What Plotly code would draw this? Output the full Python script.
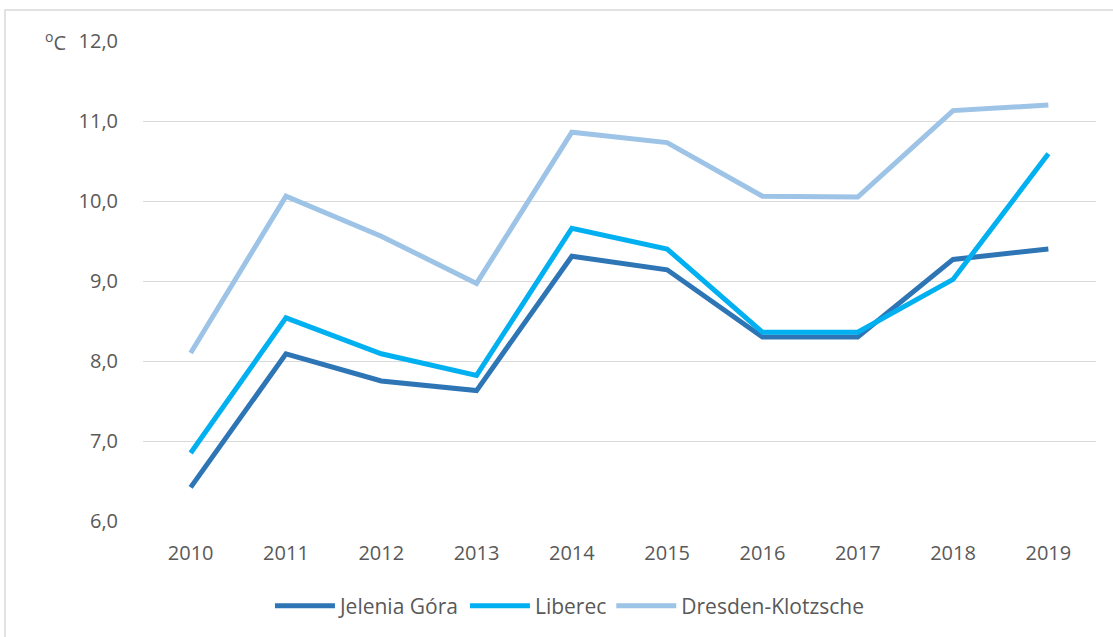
import plotly.graph_objects as go

years = [2010, 2011, 2012, 2013, 2014, 2015, 2016, 2017, 2018, 2019]
jelenia_gora = [6.42, 8.09, 7.75, 7.63, 9.31, 9.14, 8.30, 8.30, 9.27, 9.40]
liberec = [6.85, 8.54, 8.09, 7.82, 9.66, 9.40, 8.36, 8.36, 9.02, 10.59]
dresden = [8.10, 10.06, 9.56, 8.97, 10.86, 10.73, 10.06, 10.05, 11.13, 11.20]

series = [
    ("Jelenia Góra", jelenia_gora, "#2E75B6"),
    ("Liberec", liberec, "#00B0F0"),
    ("Dresden-Klotzsche", dresden, "#9DC3E6"),
]

fig = go.Figure()
for name, vals, color in series:
    fig.add_trace(go.Scatter(
        x=[str(y) for y in years], y=vals, name=name, mode="lines",
        line=dict(color=color, width=5),
    ))

font_family = "Open Sans, Liberation Sans, sans-serif"
fig.update_layout(
    width=1113, height=637,
    margin=dict(l=143, r=17, t=41, b=115),
    paper_bgcolor="white", plot_bgcolor="white",
    separators=", ",
    font=dict(family=font_family, size=20, color="#595959"),
    showlegend=True,
    legend=dict(orientation="h", x=0.448, y=-0.175, xanchor="center", yanchor="middle",
                font=dict(size=21, color="#595959"), itemwidth=60,
                traceorder="normal"),
    xaxis=dict(type="category", range=[-0.5, 9.5], showgrid=False, showline=False,
               zeroline=False, ticks="", ticklabelstandoff=18),
    yaxis=dict(range=[6, 12], dtick=1, tickformat=".1f", showgrid=True,
               gridcolor="#D9D9D9", gridwidth=1, zeroline=False, showline=False,
               ticks="", ticklabelstandoff=24),
    shapes=[dict(type="rect", xref="paper", yref="paper", x0=-0.1448, x1=1.2,
                 y0=-0.6, y1=1.0644, line=dict(color="#D9D9D9", width=1.5),
                 fillcolor="rgba(0,0,0,0)", layer="below")],
    annotations=[dict(text="<sup>o</sup>C", xref="paper", yref="paper", x=-0.0913, y=1.0,
                      xanchor="center", yanchor="middle", showarrow=False,
                      font=dict(size=20, color="#595959"))],
)

fig.write_html("out.html", config={"displayModeBar": False},
               post_script="document.body.style.margin='0';")
